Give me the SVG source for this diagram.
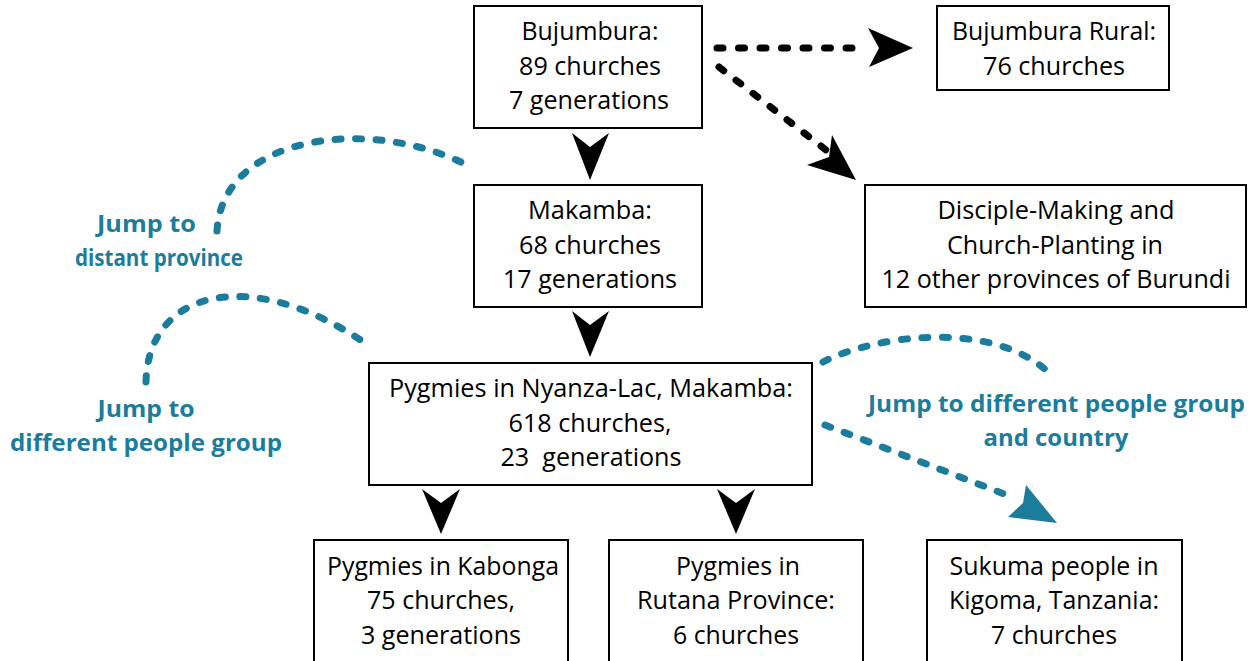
<svg xmlns="http://www.w3.org/2000/svg" width="1257" height="661" viewBox="0 0 1257 661">
  <style>
    .box { fill: #ffffff; stroke: #000000; stroke-width: 2; }
    .t { font-family: "Open Sans", "Liberation Sans", sans-serif; font-size: 25px; fill: #000000; text-anchor: middle; }
    .lbl { font-family: "Open Sans", "Liberation Sans", sans-serif; font-size: 23px; font-weight: bold; fill: #1b7c9b; text-anchor: middle; }
    .dotk { fill: none; stroke: #000000; stroke-width: 7; stroke-linecap: round; stroke-dasharray: 6 15.5; }
    .dott { fill: none; stroke: #1b7c9b; stroke-width: 7; stroke-linecap: round; stroke-dasharray: 6 14.5; }
    .headk { fill: #000000; }
    .headt { fill: #1b7c9b; }
  </style>
  <rect width="1257" height="661" fill="#ffffff"/>

  <g id="connectors">
    <!-- solid arrowheads (no shaft) -->
    <polygon class="headk" points="572,133 590,147 609,133 590,180"/>
    <polygon class="headk" points="572,311 590,325 609,311 590,357"/>
    <polygon class="headk" points="422,489 441,503 460,489 441,534"/>
    <polygon class="headk" points="717,489 736,503 755,489 736,534"/>
    <!-- black dotted arrows -->
    <path class="dotk" d="M717,48 L866,48"/>
    <polygon class="headk" points="868,28 913,48 869,67 879,48"/>
    <path class="dotk" d="M719,67 L826,150"/>
    <polygon class="headk" points="807,165 856,180 832,135 829,157"/>
    <!-- teal dashed jumps -->
    <path class="dott" d="M217,231 C222,135 370,115 469,166"/>
    <path class="dott" d="M146,382 C148,290 250,265 365,343"/>
    <path class="dott" d="M823,362 C875,335 990,320 1047,371"/>
    <path class="dott" d="M825,425 L1012,497"/>
    <polygon class="headt" points="1026,485 1057,523 1008,517 1023,503"/>
  </g>

  <g id="label-distant">
    <text class="lbl" x="146.5" y="232" textLength="99" lengthAdjust="spacingAndGlyphs">Jump to</text>
    <text class="lbl" x="159" y="266" textLength="168" lengthAdjust="spacingAndGlyphs">distant province</text>
  </g>
  <g id="label-people">
    <text class="lbl" x="146" y="417" textLength="97" lengthAdjust="spacingAndGlyphs">Jump to</text>
    <text class="lbl" x="146" y="451" textLength="272" lengthAdjust="spacingAndGlyphs">different people group</text>
  </g>
  <g id="label-country">
    <text class="lbl" x="1056.5" y="412" textLength="377" lengthAdjust="spacingAndGlyphs">Jump to different people group</text>
    <text class="lbl" x="1056" y="446" textLength="145" lengthAdjust="spacingAndGlyphs">and country</text>
  </g>

  <g id="node-bujumbura">
    <rect class="box" x="474" y="6" width="228" height="122"/>
    <text class="t" x="590" y="40" textLength="137" lengthAdjust="spacingAndGlyphs">Bujumbura:</text>
    <text class="t" x="590" y="75" textLength="142" lengthAdjust="spacingAndGlyphs">89 churches</text>
    <text class="t" x="589" y="109" textLength="160" lengthAdjust="spacingAndGlyphs">7 generations</text>
  </g>

  <g id="node-bujumbura-rural">
    <rect class="box" x="937" y="6" width="232" height="84"/>
    <text class="t" x="1054" y="40" textLength="204" lengthAdjust="spacingAndGlyphs">Bujumbura Rural:</text>
    <text class="t" x="1054" y="75" textLength="142" lengthAdjust="spacingAndGlyphs">76 churches</text>
  </g>

  <g id="node-makamba">
    <rect class="box" x="474" y="185" width="228" height="122"/>
    <text class="t" x="590" y="219" textLength="124" lengthAdjust="spacingAndGlyphs">Makamba:</text>
    <text class="t" x="590" y="254" textLength="142" lengthAdjust="spacingAndGlyphs">68 churches</text>
    <text class="t" x="590" y="288" textLength="174" lengthAdjust="spacingAndGlyphs">17 generations</text>
  </g>

  <g id="node-other-provinces">
    <rect class="box" x="865" y="185" width="381" height="122"/>
    <text class="t" x="1056" y="219" textLength="237" lengthAdjust="spacingAndGlyphs">Disciple-Making and</text>
    <text class="t" x="1055" y="254" textLength="216" lengthAdjust="spacingAndGlyphs">Church-Planting in</text>
    <text class="t" x="1056" y="288" textLength="349" lengthAdjust="spacingAndGlyphs">12 other provinces of Burundi</text>
  </g>

  <g id="node-nyanza-lac">
    <rect class="box" x="369" y="363" width="443" height="122"/>
    <text class="t" x="591" y="397" textLength="404" lengthAdjust="spacingAndGlyphs">Pygmies in Nyanza-Lac, Makamba:</text>
    <text class="t" x="590" y="432" textLength="163" lengthAdjust="spacingAndGlyphs">618 churches,</text>
    <text class="t" x="591" y="466" textLength="181" lengthAdjust="spacingAndGlyphs" xml:space="preserve">23  generations</text>
  </g>

  <g id="node-kabonga">
    <rect class="box" x="314" y="540" width="254" height="130"/>
    <text class="t" x="443" y="575" textLength="232" lengthAdjust="spacingAndGlyphs">Pygmies in Kabonga</text>
    <text class="t" x="441" y="609" textLength="148" lengthAdjust="spacingAndGlyphs">75 churches,</text>
    <text class="t" x="441" y="644" textLength="160" lengthAdjust="spacingAndGlyphs">3 generations</text>
  </g>

  <g id="node-rutana">
    <rect class="box" x="609" y="540" width="254" height="130"/>
    <text class="t" x="738" y="575" textLength="124" lengthAdjust="spacingAndGlyphs">Pygmies in</text>
    <text class="t" x="736" y="609" textLength="198" lengthAdjust="spacingAndGlyphs">Rutana Province:</text>
    <text class="t" x="736" y="644" textLength="126" lengthAdjust="spacingAndGlyphs">6 churches</text>
  </g>

  <g id="node-sukuma">
    <rect class="box" x="927" y="540" width="255" height="130"/>
    <text class="t" x="1054" y="575" textLength="209" lengthAdjust="spacingAndGlyphs">Sukuma people in</text>
    <text class="t" x="1054" y="609" textLength="210" lengthAdjust="spacingAndGlyphs">Kigoma, Tanzania:</text>
    <text class="t" x="1054" y="644" textLength="126" lengthAdjust="spacingAndGlyphs">7 churches</text>
  </g>
</svg>
